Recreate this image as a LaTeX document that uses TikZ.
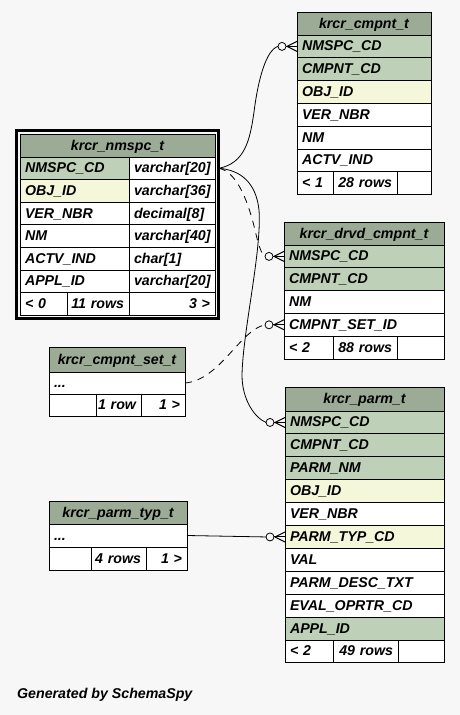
\documentclass[tikz,border=0pt]{standalone}
\usepackage{fontspec}
\setmainfont{Liberation Sans}
\usetikzlibrary{calc}
\definecolor{bg}{HTML}{F7F7F7}
\definecolor{hdr}{HTML}{9BAB96}
\definecolor{pk}{HTML}{BED1B8}
\definecolor{idx}{HTML}{F4F7DA}
\tikzset{
  cellbox/.style={draw=black, line width=0.9pt, inner xsep=5pt, inner ysep=0pt, outer sep=0pt,
    text height=9pt, text depth=0pt,
    font=\fontsize{14.2}{16}\selectfont\bfseries\itshape},
  conn/.style={draw=black, line width=0.8pt},
  dashconn/.style={conn, dash pattern=on 7pt off 6pt},
}
% name, x1, y1, x2, y2, fill, position (l/c/r), text
\newcommand\cell[8]{\node[cellbox, fill=#6,
  minimum width={(#4-#2)*1pt}, minimum height={(#5-#3)*1pt},
  text width={(#4-#2)*1pt-10pt}] (#1) at ({(#2+#4)/2},{(#3+#5)/2}) {\makebox[\linewidth][#7]{#8}};}
\newcommand\crowfoot[1]{%
  \draw[conn, line width=1pt] ($(#1)+(-11,0)$) -- (#1);
  \draw[conn, line width=1pt] ($(#1)+(-10,0)$) -- ($(#1)+(0,-5)$);
  \draw[conn, line width=1pt] ($(#1)+(-10,0)$) -- ($(#1)+(0,5)$);
  \draw[conn, fill=bg] ($(#1)+(-15,0)$) circle[radius=4pt];}
\begin{document}
\begin{tikzpicture}[x=1pt, y=-1pt]
\useasboundingbox (0,0) rectangle (460,715);
\fill[bg] (0,0) rectangle (460,715);

% ---------- krcr_nmspc_t ----------
\node[draw=black, line width=2.5pt, minimum width=202pt, minimum height=188pt, inner sep=0pt, outer sep=0pt]
  (nmspc-frame) at (117.5,224.5) {};
\cell{nmspc-h}{20}{134}{215}{157}{hdr}{c}{krcr\_nmspc\_t}
\cell{nmspc-r1a}{20}{157}{129}{179.6}{pk}{l}{NMSPC\_CD}
\cell{nmspc-r1b}{129}{157}{215}{179.6}{white}{l}{varchar[20]}
\cell{nmspc-r2a}{20}{179.6}{129}{202.2}{idx}{l}{OBJ\_ID}
\cell{nmspc-r2b}{129}{179.6}{215}{202.2}{white}{l}{varchar[36]}
\cell{nmspc-r3a}{20}{202.2}{129}{224.8}{white}{l}{VER\_NBR}
\cell{nmspc-r3b}{129}{202.2}{215}{224.8}{white}{l}{decimal[8]}
\cell{nmspc-r4a}{20}{224.8}{129}{247.4}{white}{l}{NM}
\cell{nmspc-r4b}{129}{224.8}{215}{247.4}{white}{l}{varchar[40]}
\cell{nmspc-r5a}{20}{247.4}{129}{270}{white}{l}{ACTV\_IND}
\cell{nmspc-r5b}{129}{247.4}{215}{270}{white}{l}{char[1]}
\cell{nmspc-r6a}{20}{270}{129}{292.6}{white}{l}{APPL\_ID}
\cell{nmspc-r6b}{129}{270}{215}{292.6}{white}{l}{varchar[20]}
\cell{nmspc-f1}{20}{292.6}{67}{315.2}{white}{l}{< 0}
\cell{nmspc-f2}{67}{292.6}{129}{315.2}{white}{r}{11 rows}
\cell{nmspc-f3}{129}{292.6}{215}{315.2}{white}{r}{3 >}

% ---------- krcr_cmpnt_t ----------
\cell{cmpnt-h}{297}{12}{431}{35}{hdr}{c}{krcr\_cmpnt\_t}
\cell{cmpnt-r1}{297}{35}{431}{57.8}{pk}{l}{NMSPC\_CD}
\cell{cmpnt-r2}{297}{57.8}{431}{80.6}{pk}{l}{CMPNT\_CD}
\cell{cmpnt-r3}{297}{80.6}{431}{103.4}{idx}{l}{OBJ\_ID}
\cell{cmpnt-r4}{297}{103.4}{431}{126.2}{white}{l}{VER\_NBR}
\cell{cmpnt-r5}{297}{126.2}{431}{149}{white}{l}{NM}
\cell{cmpnt-r6}{297}{149}{431}{171.8}{white}{l}{ACTV\_IND}
\cell{cmpnt-f1}{297}{171.8}{333}{194.6}{white}{l}{< 1}
\cell{cmpnt-f2}{333}{171.8}{397}{194.6}{white}{r}{28 rows}
\cell{cmpnt-f3}{397}{171.8}{431}{194.6}{white}{r}{}

% ---------- krcr_drvd_cmpnt_t ----------
\cell{drvd-h}{284}{222}{444}{245}{hdr}{c}{krcr\_drvd\_cmpnt\_t}
\cell{drvd-r1}{284}{245}{444}{267.8}{pk}{l}{NMSPC\_CD}
\cell{drvd-r2}{284}{267.8}{444}{290.6}{pk}{l}{CMPNT\_CD}
\cell{drvd-r3}{284}{290.6}{444}{313.4}{white}{l}{NM}
\cell{drvd-r4}{284}{313.4}{444}{336.2}{white}{l}{CMPNT\_SET\_ID}
\cell{drvd-f1}{284}{336.2}{333}{359}{white}{l}{< 2}
\cell{drvd-f2}{333}{336.2}{397}{359}{white}{r}{88 rows}
\cell{drvd-f3}{397}{336.2}{444}{359}{white}{r}{}

% ---------- krcr_cmpnt_set_t ----------
\cell{set-h}{49}{347}{185}{372}{hdr}{c}{krcr\_cmpnt\_set\_t}
\cell{set-r1}{49}{372}{185}{394}{white}{l}{...}
\cell{set-f1}{49}{394}{96}{416}{white}{l}{}
\cell{set-f2}{96}{394}{141}{416}{white}{r}{1 row}
\cell{set-f3}{141}{394}{185}{416}{white}{r}{1 >}

% ---------- krcr_parm_typ_t ----------
\cell{typ-h}{49}{501}{187}{524}{hdr}{c}{krcr\_parm\_typ\_t}
\cell{typ-r1}{49}{524}{187}{547}{white}{l}{...}
\cell{typ-f1}{49}{547}{91}{570}{white}{l}{}
\cell{typ-f2}{91}{547}{146}{570}{white}{r}{4 rows}
\cell{typ-f3}{146}{547}{187}{570}{white}{r}{1 >}

% ---------- krcr_parm_t ----------
\cell{parm-h}{285}{387}{444}{411}{hdr}{c}{krcr\_parm\_t}
\cell{parm-r1}{285}{411}{444}{433.9}{pk}{l}{NMSPC\_CD}
\cell{parm-r2}{285}{433.9}{444}{456.8}{pk}{l}{CMPNT\_CD}
\cell{parm-r3}{285}{456.8}{444}{479.7}{pk}{l}{PARM\_NM}
\cell{parm-r4}{285}{479.7}{444}{502.6}{idx}{l}{OBJ\_ID}
\cell{parm-r5}{285}{502.6}{444}{525.5}{white}{l}{VER\_NBR}
\cell{parm-r6}{285}{525.5}{444}{548.4}{idx}{l}{PARM\_TYP\_CD}
\cell{parm-r7}{285}{548.4}{444}{571.3}{white}{l}{VAL}
\cell{parm-r8}{285}{571.3}{444}{594.2}{white}{l}{PARM\_DESC\_TXT}
\cell{parm-r9}{285}{594.2}{444}{617.1}{white}{l}{EVAL\_OPRTR\_CD}
\cell{parm-r10}{285}{617.1}{444}{640}{pk}{l}{APPL\_ID}
\cell{parm-f1}{285}{640}{333}{662.9}{white}{l}{< 2}
\cell{parm-f2}{333}{640}{398}{662.9}{white}{r}{49 rows}
\cell{parm-f3}{398}{640}{444}{662.9}{white}{r}{}

% ---------- connectors ----------
\coordinate (e1) at ($(cmpnt-r1.west)+(-19,0)$);
\coordinate (e2) at ($(drvd-r1.west)+(-19,0)$);
\coordinate (e3) at ($(parm-r1.west)+(-19,0)$);
\coordinate (e4) at ($(drvd-r4.west)+(-19,0)$);
\coordinate (e5) at ($(parm-r6.west)+(-19,0)$);

\draw[conn] ([xshift=4pt]nmspc-r1b.east) .. controls (245,163) and (250,140) .. (254,112)
  .. controls (258,80) and (266,50) .. (e1);
\draw[dashconn] ([xshift=4pt]nmspc-r1b.east) .. controls (238,172) and (249,205) .. (255,230)
  .. controls (258,243) and (261,254) .. (e2);
\draw[conn] ([xshift=4pt]nmspc-r1b.east) .. controls (240,170) and (256,182) .. (259,210)
  .. controls (262,250) and (243,330) .. (242,375)
  .. controls (242,400) and (255,418) .. (e3);
\draw[dashconn] (set-r1.east) .. controls (220,380) and (240,330) .. (e4);
\draw[conn] (typ-r1.east) -- (e5);

\crowfoot{cmpnt-r1.west}
\crowfoot{drvd-r1.west}
\crowfoot{parm-r1.west}
\crowfoot{drvd-r4.west}
\crowfoot{parm-r6.west}

\node[anchor=base west, inner sep=0pt, font=\fontsize{14.2}{16}\selectfont\bfseries\itshape]
  (credit) at (17,698) {Generated by SchemaSpy};
\end{tikzpicture}
\end{document}
